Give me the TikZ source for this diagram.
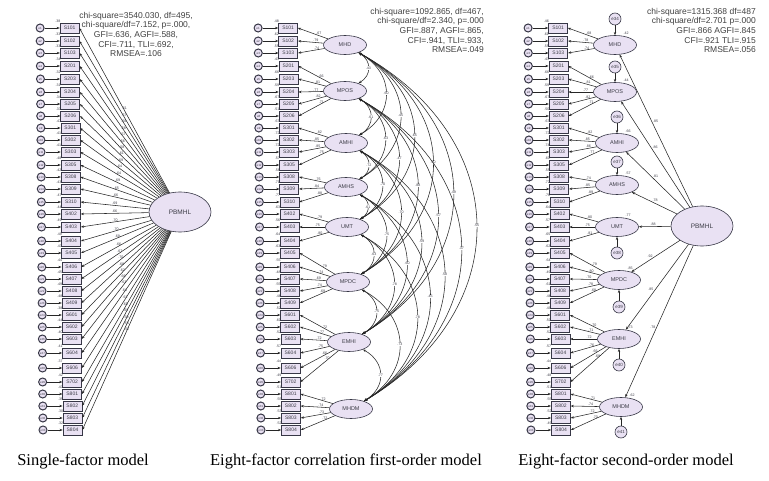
\documentclass[tikz,border=0pt]{standalone}
\usepackage{fontspec}
\setmainfont{Liberation Sans}
\newfontfamily\capfont{Liberation Serif}
\usetikzlibrary{shapes.geometric,arrows.meta,positioning}

\definecolor{lav}{RGB}{233,225,243}
\definecolor{edgeink}{RGB}{55,55,70}
\definecolor{inkgray}{RGB}{60,60,70}

\tikzset{
  ind/.style={draw=edgeink, fill=lav, rectangle, minimum width=19pt, minimum height=10pt, inner sep=0pt, line width=.6pt, font=\fontsize{5}{5}\selectfont, text=inkgray},
  err/.style={draw=edgeink, fill=lav, circle, minimum size=8pt, inner sep=0pt, line width=1pt, font=\fontsize{3}{3}\selectfont, text=inkgray},
  dist/.style={draw=edgeink, fill=lav, circle, minimum size=12pt, inner sep=0pt, line width=.6pt, font=\fontsize{4.5}{4.5}\selectfont, text=inkgray},
  fac/.style={draw=edgeink, fill=lav, ellipse, minimum width=43pt, minimum height=19pt, inner sep=0pt, line width=.6pt, font=\fontsize{5.5}{5.5}\selectfont, text=inkgray},
  gen/.style={draw=edgeink, fill=lav, ellipse, minimum width=62pt, minimum height=40pt, inner sep=0pt, line width=.6pt, font=\fontsize{6.5}{6.5}\selectfont, text=inkgray},
  num/.style={inner sep=.3pt, font=\fontsize{3.6}{3.6}\selectfont, text=inkgray},
  arr/.style={-{Stealth[length=3.2pt,width=2.4pt]}, line width=.55pt, draw=black!85},
  cov/.style={{Stealth[length=3.2pt,width=2.4pt]}-{Stealth[length=3.2pt,width=2.4pt]}, line width=.55pt, draw=black!85, bend left=60, looseness=1.3},
  fitstat/.style={inner sep=0pt, font=\fontsize{8.5}{9.6}\selectfont, text=black!75},
  captext/.style={font=\capfont\fontsize{16.5}{18}\selectfont},
}

\begin{document}
\begin{tikzpicture}[x=1pt, y=-1pt]
\useasboundingbox (0,0) rectangle (769,481);

% Nodes
\node[gen] (aG) at (180,212) {PBMHL};
\node[gen] (cG) at (702,226) {PBMHL};

\foreach \f/\xb/\yb/\xc/\yc/\ye/\r/\l [count=\k, evaluate=\k as \en using int(\k+33)] in {
    MHD/345/45/615/45/19/.42/.85,
    MPOS/345/91/615/92/67/.44/.86,
    AMHI/346/143/617/143/117/.66/.81,
    AMHS/346/187/617/185/162/.57/.78,
    UMT/347/227/617/227/253/.77/.88,
    MPDC/348/282/619/280/307/.85/.92,
    EMHI/349/342/619/339/365/.73/.85,
    MHDM/351/409/621/407/432/.62/.78} {
  \node[fac] (b\f) at (\xb,\yb) {\f};
  \node[fac] (c\f) at (\xc,\yc) {\f};
  \node[dist] (d\f) at (\xc,\ye) {e\en};
  \draw[arr] (d\f) -- (c\f);
  \draw[arr] (cG) -- node[num, auto=right, pos=.55] {\l} (c\f);
  \node[num, anchor=south west] at ([xshift=8pt]c\f.north) {\r};
}

\foreach \nm/\yy/\f/\ra/\la/\rb/\lb/\rc/\lc [count=\i] in {
    S101/28/MHD/.38/.61/.48/.67/.46/.68,
    S102/41/MHD/.33/.57/.62/.79/.61/.78,
    S103/53/MHD/.33/.58/.55/.74/.55/.74,
    S201/66/MPOS/.34/.58/.43/.66/.43/.66,
    S203/79/MPOS/.32/.57/.66/.81/.66/.81,
    S204/92/MPOS/.31/.56/.59/.77/.59/.77,
    S205/104/MPOS/.34/.58/.67/.82/.67/.82,
    S206/116/MPOS/.37/.61/.51/.71/.50/.71,
    S301/128/AMHI/.47/.69/.67/.82/.67/.82,
    S302/140/AMHI/.41/.64/.72/.85/.72/.85,
    S303/152/AMHI/.41/.64/.72/.85/.74/.86,
    S305/165/AMHI/.48/.69/.57/.75/.60/.77,
    S308/177/AMHS/.42/.65/.58/.76/.55/.74,
    S309/189/AMHS/.43/.66/.71/.84/.72/.85,
    S310/202/AMHS/.47/.69/.77/.88/.78/.89,
    S402/214/UMT/.44/.66/.63/.79/.64/.80,
    S403/227/UMT/.49/.70/.56/.75/.57/.75,
    S404/241/UMT/.49/.70/.64/.80/.65/.81,
    S405/253/MPDC/.47/.69/.63/.79/.62/.79,
    S406/267/MPDC/.44/.66/.55/.74/.64/.80,
    S407/279/MPDC/.45/.67/.48/.69/.49/.70,
    S408/291/MPDC/.49/.70/.55/.74/.61/.78,
    S409/303/MPDC/.48/.69/.48/.69/.46/.68,
    S601/315/EMHI/.38/.62/.52/.72/.49/.70,
    S602/327/EMHI/.44/.66/.60/.77/.50/.71,
    S603/339/EMHI/.40/.63/.52/.72/.52/.72,
    S604/353/EMHI/.41/.64/.57/.75/.57/.76,
    S606/368/EMHI/.37/.61/.44/.66/.44/.66,
    S702/382/EMHI/.42/.65/.49/.70/.48/.69,
    S801/394/MHDM/.47/.69/.51/.72/.51/.71,
    S802/406/MHDM/.35/.59/.55/.74/.55/.74,
    S803/418/MHDM/.30/.55/.53/.73/.52/.72,
    S804/430/MHDM/.32/.57/.52/.72/.49/.70} {
  \pgfmathsetmacro\dx{3*\i/33}
  \node[ind] (a\i) at ({69.5+\dx},\yy) {\nm};
  \node[ind] (b\i) at ({288+\dx},\yy) {\nm};
  \node[ind] (c\i) at ({558+\dx},\yy) {\nm};
  \node[err] (ea\i) at ({40+\dx},\yy) {e\i};
  \node[err] (eb\i) at ({258+\dx},\yy) {e\i};
  \node[err] (ec\i) at ({528+\dx},\yy) {e\i};
  \node[num, anchor=south east] at ([xshift=1pt]a\i.north west) {\ra};
  \node[num, anchor=south east] at ([xshift=1pt]b\i.north west) {\rb};
  \node[num, anchor=south east] at ([xshift=1pt]c\i.north west) {\rc};
  % Edges
  \draw[arr] (ea\i) -- (a\i);
  \draw[arr] (eb\i) -- (b\i);
  \draw[arr] (ec\i) -- (c\i);
  \draw[arr] (aG) -- node[num, pos=.5, above] {\la} (a\i.east);
  \draw[arr] (b\f) -- node[num, pos=.3, above] {\lb} (b\i.east);
  \draw[arr] (c\f) -- node[num, pos=.3, above] {\lc} (c\i.east);
}

% Correlations
\foreach \f/\g/\v in {
    MHD/MPOS/.43, MHD/AMHI/.60, MHD/AMHS/.45, MHD/UMT/.65, MHD/MPDC/.50, MHD/EMHI/.49, MHD/MHDM/.55,
    MPOS/AMHI/.61, MPOS/AMHS/.63, MPOS/UMT/.47, MPOS/MPDC/.88, MPOS/EMHI/.57, MPOS/MHDM/.37,
    AMHI/AMHS/.72, AMHI/UMT/.70, AMHI/MPDC/.70, AMHI/EMHI/.59, AMHI/MHDM/.58,
    AMHS/UMT/.61, AMHS/MPDC/.75, AMHS/EMHI/.60, AMHS/MHDM/.45,
    UMT/MPDC/.63, UMT/EMHI/.78, UMT/MHDM/.78,
    MPDC/EMHI/.75, MPDC/MHDM/.73,
    EMHI/MHDM/.77}
  \draw[cov] (b\f) to node[num, fill=white, pos=.5] {\v} (b\g);

% Fit indices
\node[fitstat, align=center, anchor=north] (fitA) at (136,12) {chi-square=3540.030, df=495,\\chi-square/df=7.152, p=.000,\\GFI=.636, AGFI=.588,\\CFI=.711, TLI=.692,\\RMSEA=.106};
\node[fitstat, align=right, anchor=north east] (fitB) at (484,8) {chi-square=1092.865, df=467,\\chi-square/df=2.340, p=.000\\GFI=.887, AGFI=.865,\\CFI=.941, TLI=.933,\\RMSEA=.049};
\node[fitstat, align=right, anchor=north east] (fitC) at (756,8) {chi-square=1315.368 df=487\\chi-square/df=2.701 p=.000\\GFI=.866 AGFI=.845\\CFI=.921 TLI=.915\\RMSEA=.056};

% Captions
\node[captext] (capA) at (83,461) {Single-factor model};
\node[captext] (capB) at (346,461) {Eight-factor correlation first-order model};
\node[captext] (capC) at (626,461) {Eight-factor second-order model};
\end{tikzpicture}
\end{document}
